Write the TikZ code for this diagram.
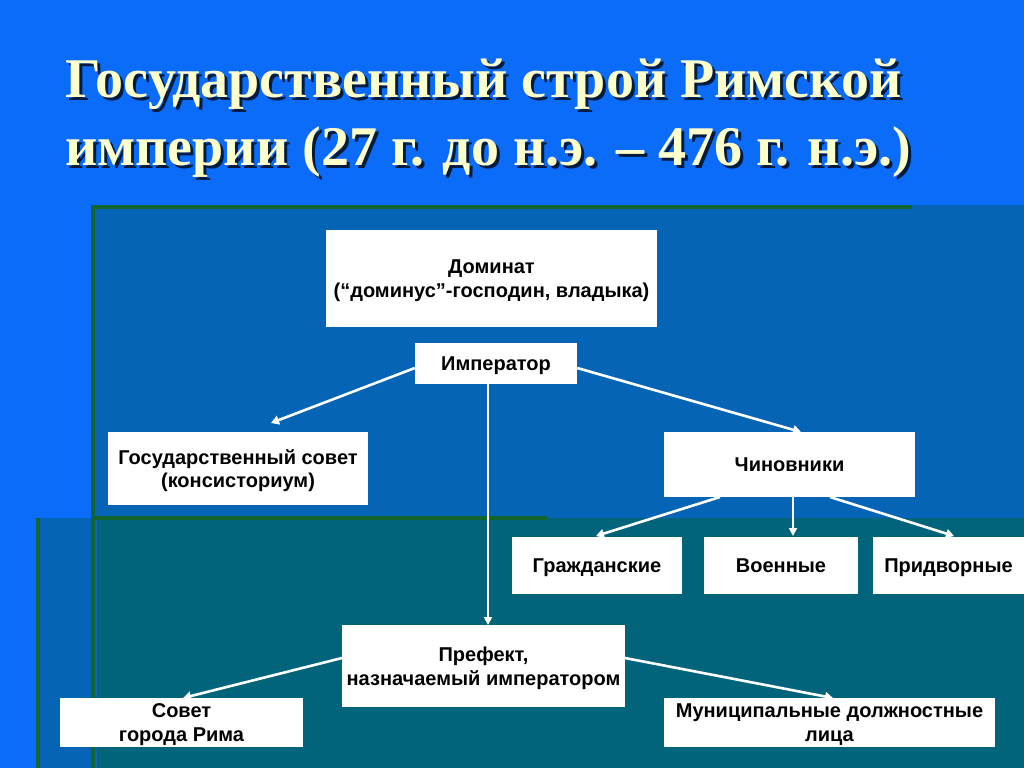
\documentclass[tikz,border=0pt]{standalone}
\usepackage{fontspec}
\setmainfont{Liberation Serif}
\newfontfamily\boxfont{Liberation Sans}
\usetikzlibrary{arrows.meta,calc}
\definecolor{bgblue}{RGB}{12,108,250}
\definecolor{panelblue}{RGB}{6,100,182}
\definecolor{panelteal}{RGB}{2,100,122}
\definecolor{edgegreen}{RGB}{20,100,50}
\definecolor{titlecream}{RGB}{255,255,204}
\tikzset{
  box/.style={fill=white, draw=none, inner sep=0pt, align=center, text depth=0pt,
    font=\boxfont\bfseries\fontsize{20}{23.5}\selectfont, text=black},
  arr/.style={draw=white, line width=2.6pt, -{Triangle[length=8pt,width=9pt]}},
  thinarr/.style={draw=white, line width=1.8pt, -{Triangle[length=8pt,width=8pt]}},
  ttl/.style={anchor=base west, inner sep=0pt, font=\bfseries\fontsize{56}{66}\selectfont},
}
\begin{document}
\begin{tikzpicture}[x=1pt,y=-1pt]
\useasboundingbox (0,0) rectangle (1024,768);
\fill[bgblue] (0,0) rectangle (1024,768);
% panels
\fill[panelblue] (93,205) rectangle (1024,768);
\fill[panelblue] (36,518) rectangle (100,768);
\fill[panelteal] (97,518) rectangle (1024,768);
\fill[edgegreen] (91,205) rectangle (912,209);
\fill[edgegreen] (91,205) rectangle (95,768);
\fill[edgegreen] (95,516) rectangle (547,520);
\fill[edgegreen] (36,518) rectangle (40,768);
% title
\foreach \dx/\col/\op in {3/black/0.75, 0/titlecream/1} {
  \node[ttl, text=\col, text opacity=\op] at (65+\dx,97+\dx) {Государственный строй Римской};
  \node[ttl, text=\col, text opacity=\op] at (65+\dx,165+\dx) {империи (27 г. до н.э. – 476 г. н.э.)};
}
% boxes
\node[box, minimum width=331, minimum height=97] (dom) at (491.5,278.5) {Доминат\\(“доминус”-господин, владыка)};
\node[box, minimum width=162, minimum height=41] (imp) at (496,363.5) {Император};
\node[box, minimum width=260, minimum height=73] (gs) at (238,468.5) {Государственный совет\\(консисториум)};
\node[box, minimum width=251, minimum height=65] (chin) at (789.5,464.5) {Чиновники};
\node[box, minimum width=170, minimum height=57] (grazh) at (597,565.5) {Гражданские};
\node[box, minimum width=154, minimum height=57] (voen) at (781,565.5) {Военные};
\node[box, minimum width=151, minimum height=57] (pridv) at (948.5,565.5) {Придворные};
\node[box, minimum width=283, minimum height=82] (pref) at (483.5,666) {Префект,\\назначаемый императором};
\node[box, minimum width=243, minimum height=49] (sovet) at (181.5,722.5) {Совет\\города Рима};
\node[box, minimum width=331, minimum height=49] (mun) at (829.5,722.5) {Муниципальные должностные\\лица};
% connector end points
\coordinate (gsTip) at (271,423);
\coordinate (chinTip) at (801,432);
\coordinate (impS) at (488,384);
\coordinate (prefTip) at (488,625);
\coordinate (chinA) at (720,497);
\coordinate (chinB) at (793,497);
\coordinate (chinC) at (830,497);
\coordinate (grTip) at (596,536);
\coordinate (voTip) at (793,536);
\coordinate (prTip) at (954,536);
\coordinate (prefL) at (342,658);
\coordinate (prefR) at (625,658);
\coordinate (sovTip) at (183,698);
\coordinate (munTip) at (833,698);
% connectors
\draw[arr] (imp.west |- 0,368) -- (gsTip);
\draw[arr] (imp.east |- 0,368) -- (chinTip);
\draw[thinarr] (impS) -- (prefTip);
\draw[arr] (chinA) -- (grTip);
\draw[thinarr] (chinB) -- (voTip);
\draw[arr] (chinC) -- (prTip);
\draw[arr] (prefL) -- (sovTip);
\draw[arr] (prefR) -- (munTip);
\end{tikzpicture}
\end{document}
